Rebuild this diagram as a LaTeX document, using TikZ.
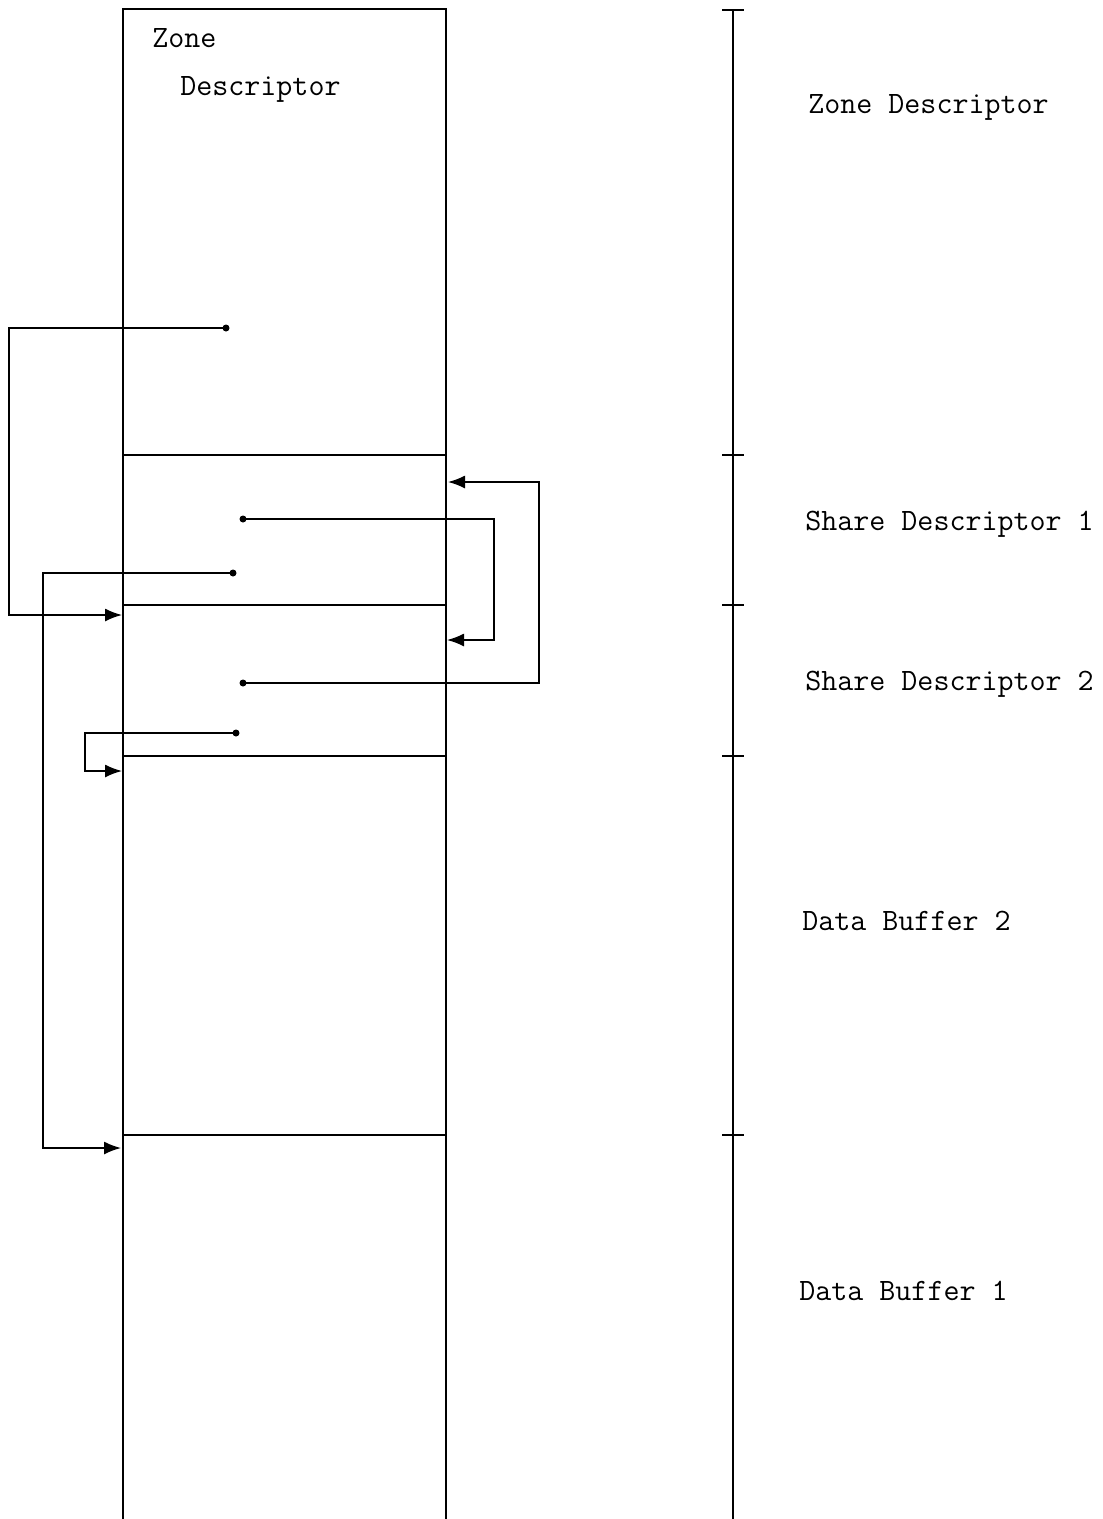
\documentclass[tikz,border=0pt]{standalone}
\usetikzlibrary{positioning,arrows.meta}

\begin{document}
\begin{tikzpicture}[
            every node/.style={font=\ttfamily\fontsize{17.7}{21}\selectfont},
            region/.style={
                rectangle,
                draw=black,
                line width=0.9pt,
                inner sep=0pt,
                outer sep=0pt,
                minimum width=6.46cm
            },
            dot/.style={
                circle,
                fill=black,
                inner sep=0pt,
                minimum size=1.4mm
            },
            link/.style={
                -{Latex[length=3.4mm,width=2.6mm]},
                line width=0.9pt
            },
            label/.style={
                anchor=west,
                inner sep=0pt
            }
        ]
            \useasboundingbox (0,0) rectangle (22.06,-30.38);

            % Memory regions
            \node[region, minimum height=8.92cm] (zone) at (5.69,-4.64) {};
            \node[region, minimum height=3.00cm, below=0pt of zone] (share1) {};
            \node[region, minimum height=3.02cm, below=0pt of share1] (share2) {};
            \node[region, minimum height=7.58cm, below=0pt of share2] (buf2) {};
            \node[region, minimum height=8.00cm, below=0pt of buf2] (buf1) {};

            \node[label] (zonetop) at (3.04,-0.76) {Zone};
            \node[label] (zonesub) at (3.60,-1.78) {Descriptor};

            % Scale on the right
            \coordinate (axtop) at (14.66,-0.20);
            \coordinate (axbot) at (14.66,-31.00);
            \draw[line width=0.9pt] (axtop) -- (axbot);
            \draw[line width=0.9pt] ([xshift=-2.2mm]axtop) -- ([xshift=2.2mm]axtop);
            \foreach \part in {zone,share1,share2,buf2}
                \draw[line width=0.8pt] ([xshift=-2.2mm]\part.south -| axtop) -- ([xshift=2.2mm]\part.south -| axtop);

            % Region names
            \node[label] (nzone) at (16.16,-2.14) {Zone Descriptor};
            \node[label] (nshare1) at (16.10,-10.48) {Share Descriptor 1};
            \node[label] (nshare2) at (16.10,-13.68) {Share Descriptor 2};
            \node[label] (nbuf2) at (16.04,-18.42) {Data Buffer 2};
            \node[label] (nbuf1) at (15.98,-25.82) {Data Buffer 1};

            % Pointers
            \node[dot] (p1) at (4.52,-6.56) {};
            \node[dot] (p2) at (4.86,-10.38) {};
            \node[dot] (p3) at (4.66,-11.46) {};
            \node[dot] (p4) at (4.86,-13.66) {};
            \node[dot] (p5) at (4.72,-14.66) {};

            \coordinate (t1) at (2.44,-12.30);
            \coordinate (t2) at (8.94,-12.80);
            \coordinate (t3) at (2.42,-22.96);
            \coordinate (t4) at (8.96,-9.64);
            \coordinate (t5) at (2.44,-15.42);

            \draw[link] (p1.center) -- (0.18,-6.56) |- (t1);
            \draw[link] (p2.center) -- (9.88,-10.38) |- (t2);
            \draw[link] (p3.center) -- (0.86,-11.46) |- (t3);
            \draw[link] (p4.center) -- (10.78,-13.66) |- (t4);
            \draw[link] (p5.center) -- (1.70,-14.66) |- (t5);
        \end{tikzpicture}
\end{document}
